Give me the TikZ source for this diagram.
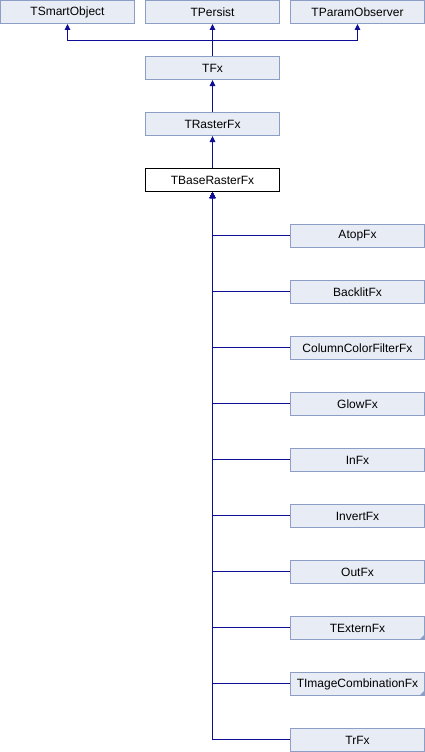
\documentclass[tikz,border=0pt]{standalone}
\usepackage{fontspec}
\setmainfont{Liberation Sans}
\usetikzlibrary{arrows.meta}
\definecolor{boxfill}{HTML}{E8ECF5}
\definecolor{boxdraw}{HTML}{8C9EC6}
\definecolor{edgecol}{HTML}{0C0C96}
\definecolor{cornercol}{HTML}{8C9EC6}
\begin{document}
\begin{tikzpicture}[x=1pt,y=-1pt,
  cls/.style={draw=boxdraw,fill=boxfill,line width=1pt,minimum width=134pt,minimum height=23pt,inner sep=0pt,font=\fontsize{12}{14}\selectfont},
  cur/.style={cls,draw=black,fill=white},
  edge/.style={draw=edgecol,line width=1pt,-{Triangle[length=6pt,width=5.5pt]}}
]
\useasboundingbox (0,0) rectangle (425,752);
\node[cls] (tso) at (67.5,12) {TSmartObject};
\node[cls] (tpe) at (212.5,12) {TPersist};
\node[cls] (tpo) at (357.5,12) {TParamObserver};
\node[cls] (tfx) at (212.5,68) {TFx};
\node[cls] (trf) at (212.5,124) {TRasterFx};
\node[cur] (tbr) at (212.5,180) {TBaseRasterFx};
\node[cls] (c1) at (357.5,236) {AtopFx};
\node[cls] (c2) at (357.5,292) {BacklitFx};
\node[cls] (c3) at (357.5,348) {ColumnColorFilterFx};
\node[cls] (c4) at (357.5,404) {GlowFx};
\node[cls] (c5) at (357.5,460) {InFx};
\node[cls] (c6) at (357.5,516) {InvertFx};
\node[cls] (c7) at (357.5,572) {OutFx};
\node[cls] (c8) at (357.5,628) {TExternFx};
\node[cls] (c9) at (357.5,684) {TImageCombinationFx};
\node[cls] (c10) at (357.5,740) {TrFx};
\foreach \n in {c8,c9}{
  \fill[cornercol] ([shift={(-0.5,-0.5)}]\n.south east) -- ++(0,-5) -- ++(-5,5) -- cycle;
}
\coordinate (j) at (212.5,40.5);
\draw[edge] (tfx.north) -- (j) -| (tso.south);
\draw[edge] (tfx.north) -- (tpe.south);
\draw[edge] (tfx.north) -- (j) -| (tpo.south);
\draw[edge] (trf.north) -- (tfx.south);
\draw[edge] (tbr.north) -- (trf.south);
\foreach \n in {c1,c2,c3,c4,c5,c6,c7,c8,c9,c10}{
  \draw[edge] ([yshift=0.5pt]\n.west) -| (tbr.south);
}
\end{tikzpicture}
\end{document}
